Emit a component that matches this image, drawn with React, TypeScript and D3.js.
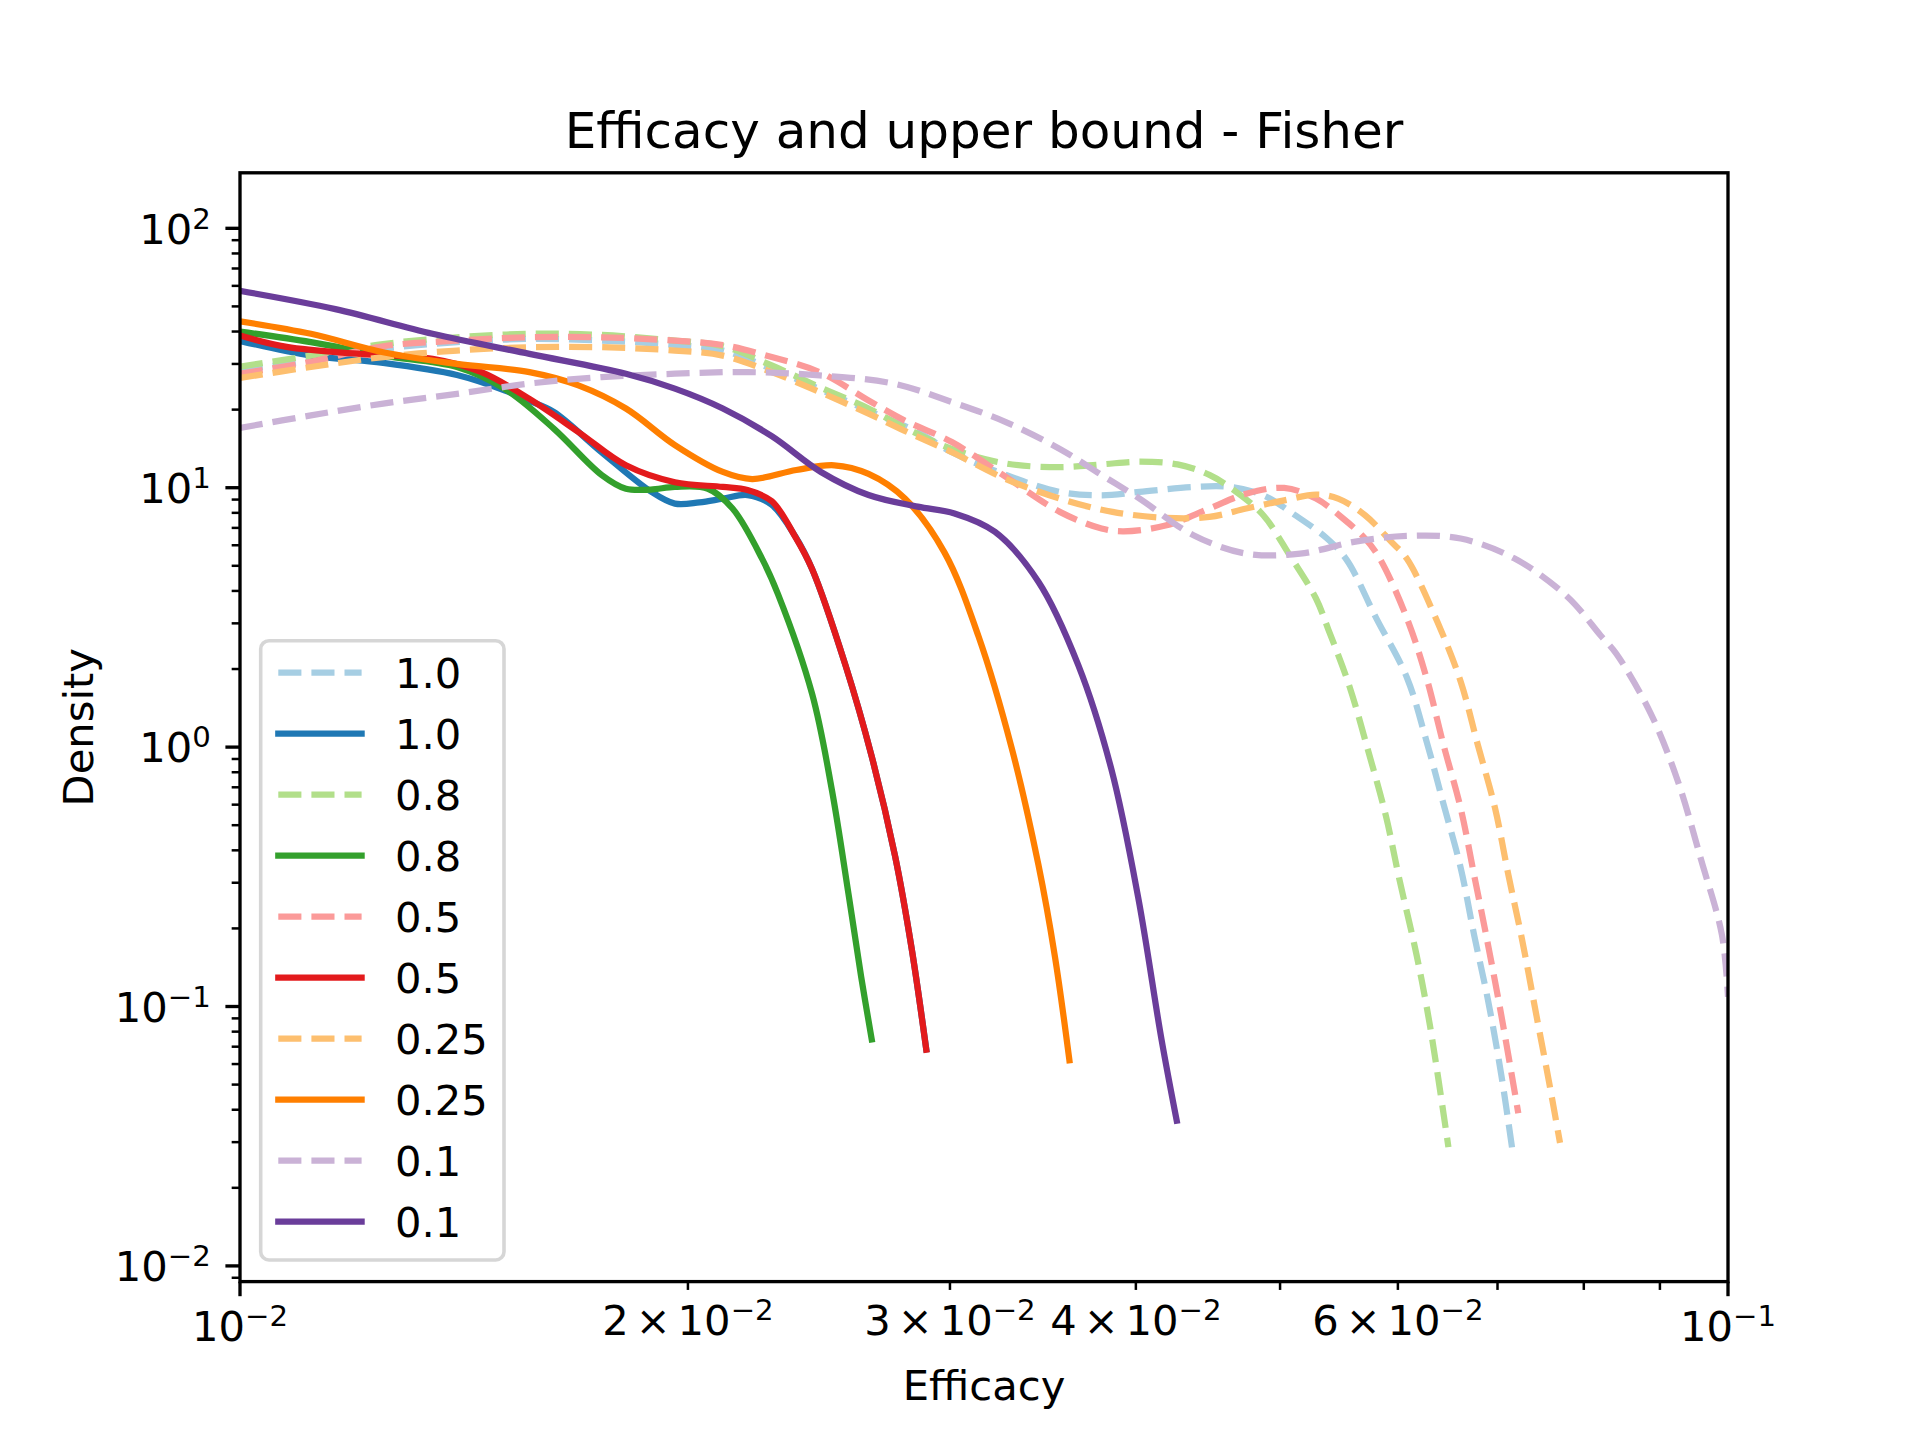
import * as d3 from "d3";

// efficacy / density pairs (log-log KDE curves)
const dashed10: [number, number][] = [
  [0.01, 28.4], [0.01116, 30.9], [0.01248, 34.3], [0.01399, 36.4], [0.01565, 37.5],
  [0.0175, 36.9], [0.0196, 35.5], [0.02111, 33.8], [0.02277, 28.7], [0.02452, 24.0],
  [0.02645, 19.8], [0.02854, 16.4], [0.03009, 13.7], [0.03271, 11.2], [0.03556, 9.63],
  [0.03793, 9.35], [0.04023, 9.63], [0.04373, 10.07], [0.04629, 10.07], [0.04872, 9.35],
  [0.05119, 7.83], [0.05377, 6.37], [0.05543, 5.27], [0.05801, 3.15], [0.06083, 1.86],
  [0.0627, 1.06], [0.06439, 0.603], [0.06612, 0.343], [0.06752, 0.188], [0.06894, 0.1075],
  [0.07039, 0.0551], [0.07174, 0.0263],
];
const solid10: [number, number][] = [
  [0.01, 36.8], [0.01116, 32.3], [0.01248, 30.3], [0.01399, 27.2], [0.01507, 23.7],
  [0.01565, 21.6], [0.01625, 19.6], [0.0175, 13.7], [0.01888, 9.68], [0.0196, 8.68],
  [0.02036, 8.78], [0.02111, 9.07], [0.02193, 9.37], [0.02277, 8.59], [0.02361, 6.5],
  [0.02424, 4.85], [0.02552, 2.07], [0.02658, 0.92], [0.02756, 0.379], [0.02827, 0.168],
  [0.02892, 0.0684],
];
const dashed08: [number, number][] = [
  [0.01, 29.3], [0.01116, 32.3], [0.01248, 35.8], [0.01399, 38.0], [0.01565, 39.2],
  [0.0175, 38.8], [0.0196, 36.9], [0.02111, 35.1], [0.02277, 29.6], [0.02452, 24.4],
  [0.02645, 20.2], [0.02795, 17.1], [0.03009, 14.1], [0.03271, 12.4], [0.03556, 12.0],
  [0.03793, 12.3], [0.04023, 12.6], [0.04266, 12.3], [0.04482, 11.2], [0.04673, 9.63],
  [0.04872, 7.83], [0.05075, 5.49], [0.05286, 3.74], [0.05388, 2.84], [0.05564, 1.73],
  [0.05735, 0.952], [0.0589, 0.542], [0.06014, 0.309], [0.06176, 0.158], [0.06306, 0.0841],
  [0.06488, 0.0287],
];
const solid08: [number, number][] = [
  [0.01, 40.0], [0.01116, 36.4], [0.01248, 32.3], [0.01399, 29.2], [0.01507, 24.0],
  [0.01625, 16.9], [0.0175, 11.2], [0.01817, 9.91], [0.01888, 9.84], [0.0196, 10.07],
  [0.02063, 9.91], [0.02143, 8.31], [0.02243, 5.33], [0.02299, 3.89], [0.02424, 1.6],
  [0.02499, 0.684], [0.02564, 0.272], [0.02615, 0.13], [0.02658, 0.0746],
];
const dashed05: [number, number][] = [
  [0.01, 27.5], [0.01116, 30.6], [0.01248, 35.1], [0.01399, 36.9], [0.01565, 38.0],
  [0.0175, 38.0], [0.0196, 36.9], [0.02111, 35.5], [0.02277, 31.9], [0.02452, 27.9],
  [0.02645, 21.7], [0.02795, 18.2], [0.03009, 15.0], [0.03271, 11.0], [0.03556, 8.07],
  [0.03793, 6.96], [0.03925, 6.79], [0.04194, 7.16], [0.04482, 8.31], [0.04745, 9.48],
  [0.05032, 9.98], [0.05286, 9.08], [0.05512, 7.61], [0.05703, 6.37], [0.05834, 5.33],
  [0.06083, 3.15], [0.0627, 1.86], [0.06439, 1.02], [0.06612, 0.582], [0.06752, 0.32],
  [0.06894, 0.176], [0.07039, 0.0935], [0.07229, 0.0388],
];
const solid05: [number, number][] = [
  [0.01, 38.6], [0.01075, 34.9], [0.01204, 32.8], [0.01347, 31.4], [0.01453, 27.9],
  [0.01565, 22.0], [0.01688, 16.4], [0.01817, 12.2], [0.0196, 10.5], [0.02111, 10.07],
  [0.02193, 9.79], [0.02277, 8.87], [0.02361, 6.48], [0.02424, 4.85], [0.02552, 2.07],
  [0.02658, 0.92], [0.02756, 0.379], [0.02827, 0.168], [0.02892, 0.0682],
];
const dashed025: [number, number][] = [
  [0.01, 26.5], [0.01116, 29.2], [0.01248, 31.9], [0.01399, 33.8], [0.01565, 34.8],
  [0.0175, 34.8], [0.0196, 33.8], [0.02111, 32.3], [0.02277, 27.9], [0.02452, 23.4],
  [0.02645, 19.3], [0.02795, 16.6], [0.03009, 13.7], [0.03271, 10.8], [0.03556, 9.08],
  [0.03858, 8.07], [0.04194, 7.65], [0.04482, 7.72], [0.04745, 8.31], [0.05032, 8.94],
  [0.05286, 9.4], [0.0547, 9.08], [0.05703, 7.83], [0.0594, 6.18], [0.06083, 5.33],
  [0.06378, 3.04], [0.06612, 1.79], [0.0679, 1.02], [0.06973, 0.582], [0.0712, 0.32],
  [0.0727, 0.182], [0.07423, 0.0968], [0.0758, 0.0514], [0.07711, 0.0298],
];
const solid025: [number, number][] = [
  [0.01, 43.8], [0.01116, 39.2], [0.01248, 33.3], [0.01399, 30.0], [0.01565, 27.9],
  [0.01688, 24.8], [0.01817, 20.2], [0.0196, 14.6], [0.02111, 11.5], [0.02209, 10.8],
  [0.02365, 11.7], [0.02508, 12.2], [0.02645, 11.3], [0.02798, 9.08], [0.02975, 5.62],
  [0.03135, 2.68], [0.03301, 0.99], [0.0344, 0.352], [0.03529, 0.156], [0.03609, 0.0621],
];
const dashed01: [number, number][] = [
  [0.01, 17.0], [0.01116, 19.0], [0.01248, 21.1], [0.01399, 23.0], [0.01565, 25.2],
  [0.0175, 26.7], [0.0196, 27.5], [0.02193, 27.9], [0.02452, 27.1], [0.02748, 25.2],
  [0.03009, 21.4], [0.03271, 17.9], [0.03556, 14.1], [0.03793, 11.2], [0.04023, 9.08],
  [0.04373, 6.56], [0.04745, 5.57], [0.05158, 5.57], [0.05606, 6.18], [0.06094, 6.52],
  [0.06612, 6.37], [0.07188, 5.33], [0.07799, 3.8], [0.08208, 2.7], [0.08413, 2.29],
  [0.08872, 1.35], [0.0925, 0.744], [0.09592, 0.368], [0.09906, 0.189], [0.1, 0.109],
];
const solid01: [number, number][] = [
  [0.01, 57.4], [0.01159, 48.8], [0.01347, 39.2], [0.01565, 32.8], [0.01817, 27.5],
  [0.0196, 24.1], [0.02111, 20.2], [0.02277, 15.8], [0.02457, 11.5], [0.02645, 9.37],
  [0.02854, 8.45], [0.03021, 7.96], [0.03216, 6.76], [0.0344, 4.34], [0.03659, 2.07],
  [0.03851, 0.823], [0.04015, 0.262], [0.04162, 0.0746], [0.04261, 0.0363],
];

const seriesData = [dashed10, solid10, dashed08, solid08, dashed05, solid05, dashed025, solid025, dashed01, solid01];
const seriesLabels = ["1.0", "1.0", "0.8", "0.8", "0.5", "0.5", "0.25", "0.25", "0.1", "0.1"];
const seriesDashed = [true, false, true, false, true, false, true, false, true, false];

const yTickExponents = [-2, -1, 0, 1, 2];
const xMajorTicks = [0.01, 0.1];
const xLabelledMinor = [2, 3, 4, 6];

const W = 1920;
const H = 1440;
const left = 240;
const right = 1728;
const top = 172.8;
const bottom = 1281.6;
const fs = 41.67;
const supFs = 29.2;
const lw = 6.25;
const font = "DejaVu Sans";

const sup = (e: number) => (e < 0 ? "\u2212" + Math.abs(e) : String(e));

const App = () => {
  const x = d3.scaleLog().domain([0.01, 0.1]).range([left, right]);
  const y = d3.scaleLog().domain([Math.pow(10, -2.0605), Math.pow(10, 2.214)]).range([bottom, top]);
  const colors = d3.schemePaired.slice(0, 10);

  const line = d3.line<[number, number]>()
    .x(d => x(d[0]))
    .y(d => y(d[1]))
    .curve(d3.curveCatmullRom.alpha(0.5));

  const [y0, y1] = y.domain();
  const yMinor: number[] = [];
  for (let e = -3; e <= 2; e++) {
    for (let m = 2; m <= 9; m++) {
      const v = m * Math.pow(10, e);
      if (v >= y0 && v <= y1) yMinor.push(v);
    }
  }
  const xMinor = d3.range(2, 10).map(m => m * 0.01);

  // legend layout
  const lgX = 260.7, lgY = 640.7, lgW = 243.3, lgH = 619.3;
  const rowY0 = 672.7, rowStep = 61;
  const hx0 = 278.3, hx1 = 361.6, tx = 395;

  return (
    <div style={{ position: "absolute", left: 0, top: 0 }}>
      <svg width={W} height={H} style={{ display: "block", background: "#fff" }} fontFamily={font}>
        <defs>
          <clipPath id="plotArea">
            <rect x={left} y={top} width={right - left} height={bottom - top} />
          </clipPath>
        </defs>
        <rect width={W} height={H} fill="#fff" />

        <g clipPath="url(#plotArea)">
          {seriesData.map((d, i) => (
            <path
              key={i}
              d={line(d) || ""}
              fill="none"
              stroke={colors[i]}
              strokeWidth={lw}
              strokeDasharray={seriesDashed[i] ? "23.1 10" : undefined}
              strokeLinecap={seriesDashed[i] ? "butt" : "square"}
              strokeLinejoin="round"
            />
          ))}
        </g>

        {/* y ticks */}
        {yTickExponents.map(e => {
          const v = Math.pow(10, e);
          return (
            <g key={"ym" + e}>
              <line x1={left - 14.6} x2={left} y1={y(v)} y2={y(v)} stroke="#000" strokeWidth={3.33} />
              <text x={left - 29.2} y={y(v) + 15.2} fontSize={fs} textAnchor="end" fill="#000">
                10<tspan dy={-15} fontSize={supFs}>{sup(e)}</tspan>
              </text>
            </g>
          );
        })}
        {yMinor.map((v, i) => (
          <line key={"yn" + i} x1={left - 8.33} x2={left} y1={y(v)} y2={y(v)} stroke="#000" strokeWidth={2.5} />
        ))}

        {/* x ticks */}
        {xMajorTicks.map(v => (
          <g key={"xm" + v}>
            <line x1={x(v)} x2={x(v)} y1={bottom} y2={bottom + 14.6} stroke="#000" strokeWidth={3.33} />
            <text x={x(v)} y={1340.7} fontSize={fs} textAnchor="middle" fill="#000">
              10<tspan dy={-15} fontSize={supFs}>{sup(Math.round(Math.log10(v)))}</tspan>
            </text>
          </g>
        ))}
        {xMinor.map((v, i) => (
          <line key={"xn" + i} x1={x(v)} x2={x(v)} y1={bottom} y2={bottom + 8.33} stroke="#000" strokeWidth={2.5} />
        ))}
        {xLabelledMinor.map(m => (
          <text key={"xl" + m} x={x(m * 0.01)} y={1335} fontSize={fs} textAnchor="middle" fill="#000">
            {m}<tspan dx={7}>×</tspan><tspan dx={7}>10</tspan><tspan dy={-15} fontSize={supFs}>{sup(-2)}</tspan>
          </text>
        ))}

        {/* spines */}
        <rect x={left} y={top} width={right - left} height={bottom - top} fill="none" stroke="#000" strokeWidth={3.33} />

        {/* labels */}
        <text x={(left + right) / 2} y={147.8} fontSize={50} textAnchor="middle" fill="#000">
          Efficacy and upper bound - Fisher
        </text>
        <text x={(left + right) / 2} y={1400} fontSize={fs} textAnchor="middle" fill="#000">
          Efficacy
        </text>
        <text transform={`translate(93, ${(top + bottom) / 2}) rotate(-90)`} fontSize={fs} textAnchor="middle" fill="#000">
          Density
        </text>

        {/* legend */}
        <rect x={lgX} y={lgY} width={lgW} height={lgH} rx={8.3} fill="#fff" fillOpacity={0.8}
          stroke="#cccccc" strokeOpacity={0.8} strokeWidth={3.6} />
        {seriesLabels.map((lab, i) => {
          const ry = rowY0 + i * rowStep;
          return (
            <g key={"lg" + i}>
              <line x1={hx0} x2={hx1} y1={ry} y2={ry} stroke={colors[i]} strokeWidth={lw}
                strokeDasharray={seriesDashed[i] ? "23.1 10" : undefined}
                strokeLinecap={seriesDashed[i] ? "butt" : "square"} />
              <text x={tx} y={ry + 15} fontSize={fs} fill="#000">{lab}</text>
            </g>
          );
        })}
      </svg>
    </div>
  );
};

export default App;
